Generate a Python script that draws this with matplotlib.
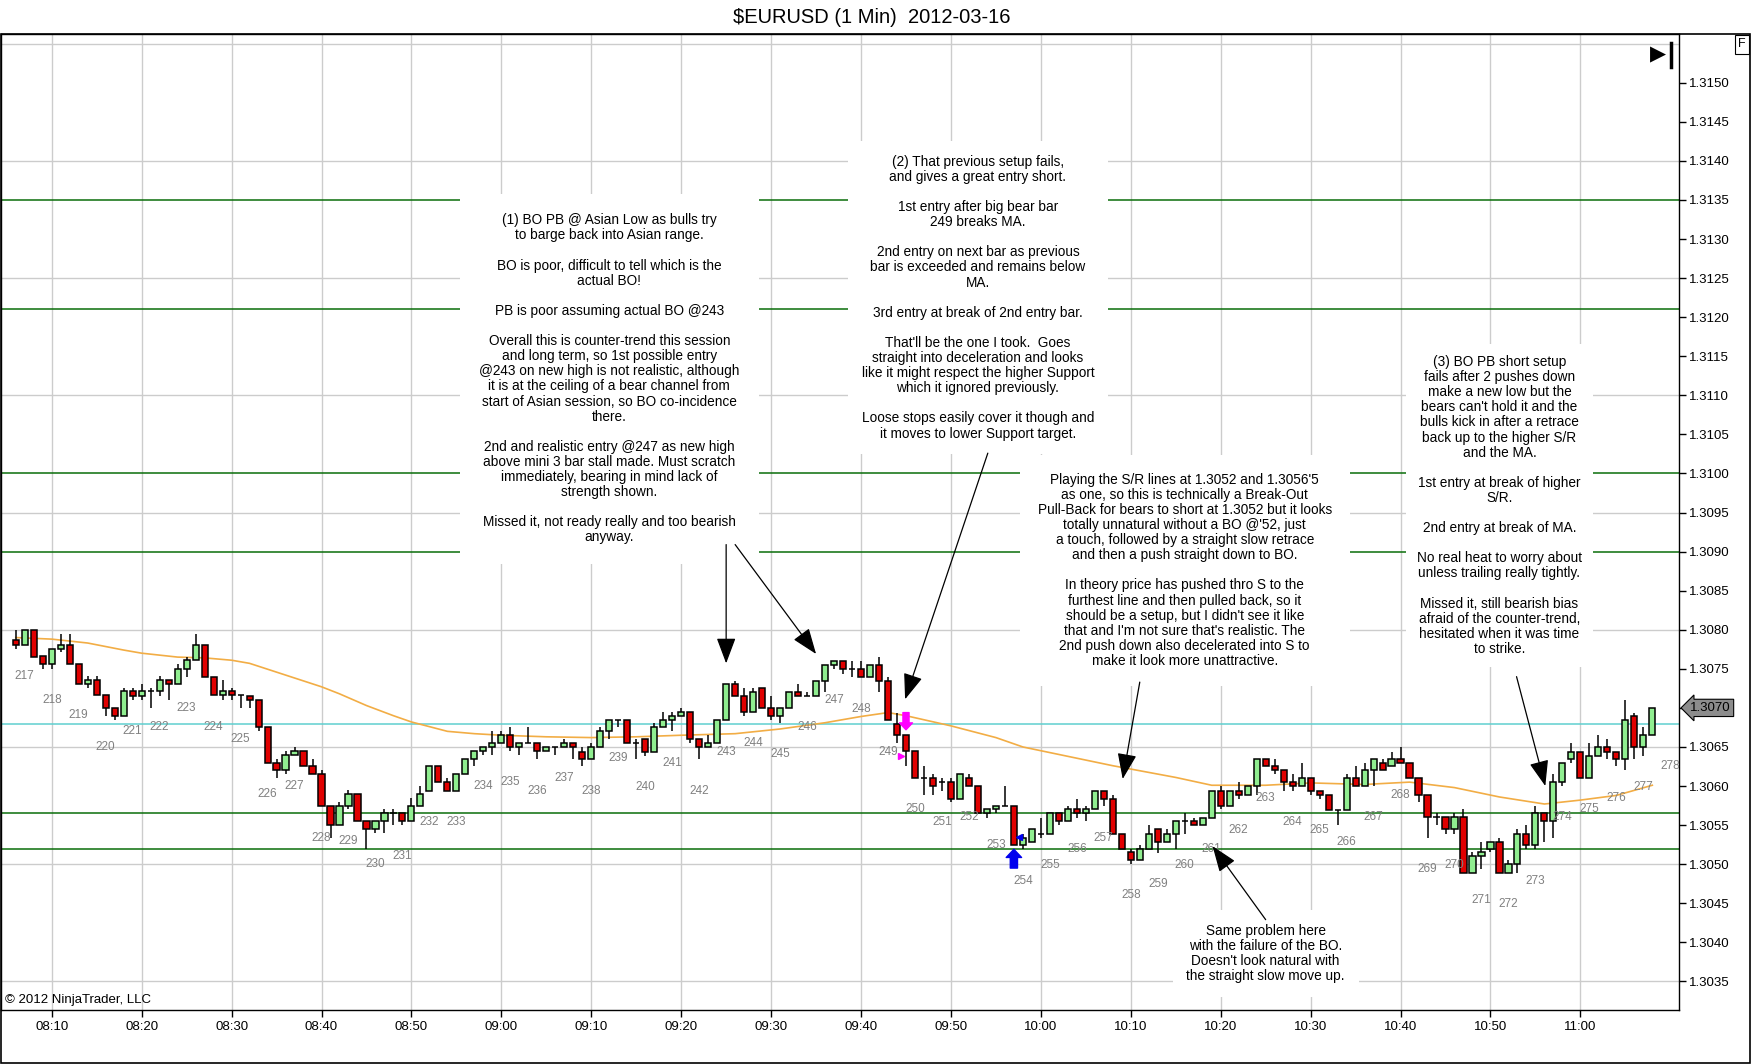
import matplotlib
matplotlib.use('Agg')
import matplotlib.pyplot as plt
from matplotlib.patches import Rectangle

# 1-minute bars from 08:06 (index 0) to 11:08 (index 182)
opens = [1.30787, 1.30781, 1.30800, 1.30766, 1.30756, 1.30776, 1.30781, 1.30756, 1.30731, 1.30736,
         1.30716, 1.30700, 1.30690, 1.30721, 1.30715, 1.30721, 1.30721, 1.30736, 1.30731, 1.30750,
         1.30761, 1.30781, 1.30740, 1.30716, 1.30721, 1.30716, 1.30715, 1.30710, 1.30676, 1.30630,
         1.30621, 1.30640, 1.30645, 1.30626, 1.30615, 1.30574, 1.30550, 1.30574, 1.30590, 1.30555,
         1.30545, 1.30555, 1.30565, 1.30565, 1.30555, 1.30574, 1.30594, 1.30626, 1.30605, 1.30594,
         1.30615, 1.30635, 1.30645, 1.30650, 1.30655, 1.30665, 1.30650, 1.30655, 1.30655, 1.30645,
         1.30650, 1.30650, 1.30655, 1.30644, 1.30634, 1.30650, 1.30670, 1.30684, 1.30684, 1.30655,
         1.30660, 1.30644, 1.30676, 1.30684, 1.30689, 1.30695, 1.30660, 1.30650, 1.30655, 1.30684,
         1.30730, 1.30715, 1.30695, 1.30725, 1.30700, 1.30689, 1.30700, 1.30720, 1.30715, 1.30715,
         1.30735, 1.30755, 1.30760, 1.30750, 1.30750, 1.30739, 1.30755, 1.30735, 1.30679, 1.30665,
         1.30645, 1.30610, 1.30610, 1.30605, 1.30605, 1.30584, 1.30610, 1.30600, 1.30565, 1.30570,
         1.30574, 1.30574, 1.30524, 1.30529, 1.30539, 1.30539, 1.30565, 1.30555, 1.30570, 1.30565,
         1.30570, 1.30594, 1.30584, 1.30539, 1.30515, 1.30505, 1.30519, 1.30545, 1.30529, 1.30539,
         1.30555, 1.30555, 1.30550, 1.30559, 1.30594, 1.30574, 1.30594, 1.30589, 1.30600, 1.30634,
         1.30625, 1.30620, 1.30605, 1.30600, 1.30610, 1.30594, 1.30589, 1.30569, 1.30569, 1.30610,
         1.30600, 1.30620, 1.30629, 1.30625, 1.30634, 1.30629, 1.30610, 1.30589, 1.30560, 1.30560,
         1.30545, 1.30560, 1.30489, 1.30510, 1.30519, 1.30529, 1.30489, 1.30500, 1.30539, 1.30524,
         1.30565, 1.30555, 1.30605, 1.30634, 1.30644, 1.30610, 1.30639, 1.30650, 1.30644, 1.30634,
         1.30689, 1.30650, 1.30665]
highs = [1.30800, 1.30800, 1.30800, 1.30766, 1.30776, 1.30795, 1.30795, 1.30756, 1.30741, 1.30741,
         1.30716, 1.30700, 1.30726, 1.30726, 1.30731, 1.30726, 1.30741, 1.30736, 1.30756, 1.30765,
         1.30795, 1.30781, 1.30740, 1.30736, 1.30726, 1.30716, 1.30715, 1.30710, 1.30676, 1.30635,
         1.30645, 1.30650, 1.30645, 1.30635, 1.30621, 1.30574, 1.30579, 1.30595, 1.30590, 1.30555,
         1.30555, 1.30571, 1.30571, 1.30565, 1.30585, 1.30600, 1.30626, 1.30626, 1.30610, 1.30615,
         1.30635, 1.30645, 1.30650, 1.30670, 1.30670, 1.30676, 1.30655, 1.30676, 1.30655, 1.30650,
         1.30650, 1.30660, 1.30655, 1.30650, 1.30655, 1.30676, 1.30684, 1.30684, 1.30684, 1.30660,
         1.30660, 1.30681, 1.30695, 1.30695, 1.30700, 1.30695, 1.30660, 1.30665, 1.30684, 1.30730,
         1.30735, 1.30725, 1.30725, 1.30725, 1.30715, 1.30700, 1.30720, 1.30730, 1.30720, 1.30735,
         1.30755, 1.30760, 1.30760, 1.30760, 1.30760, 1.30755, 1.30765, 1.30739, 1.30694, 1.30665,
         1.30645, 1.30625, 1.30615, 1.30610, 1.30610, 1.30615, 1.30615, 1.30600, 1.30570, 1.30574,
         1.30600, 1.30574, 1.30539, 1.30545, 1.30559, 1.30565, 1.30565, 1.30574, 1.30584, 1.30574,
         1.30594, 1.30594, 1.30589, 1.30539, 1.30519, 1.30524, 1.30550, 1.30545, 1.30545, 1.30555,
         1.30565, 1.30559, 1.30559, 1.30594, 1.30600, 1.30594, 1.30605, 1.30600, 1.30634, 1.30634,
         1.30634, 1.30620, 1.30615, 1.30629, 1.30610, 1.30594, 1.30589, 1.30569, 1.30615, 1.30625,
         1.30629, 1.30634, 1.30634, 1.30644, 1.30650, 1.30629, 1.30610, 1.30589, 1.30565, 1.30560,
         1.30565, 1.30570, 1.30515, 1.30529, 1.30529, 1.30534, 1.30505, 1.30545, 1.30550, 1.30574,
         1.30565, 1.30615, 1.30629, 1.30655, 1.30644, 1.30655, 1.30665, 1.30660, 1.30644, 1.30710,
         1.30694, 1.30676, 1.30700]
lows = [1.30776, 1.30781, 1.30765, 1.30750, 1.30750, 1.30772, 1.30756, 1.30731, 1.30726, 1.30716,
        1.30690, 1.30685, 1.30690, 1.30710, 1.30710, 1.30700, 1.30715, 1.30710, 1.30731, 1.30740,
        1.30761, 1.30740, 1.30716, 1.30710, 1.30710, 1.30700, 1.30700, 1.30671, 1.30630, 1.30610,
        1.30615, 1.30640, 1.30626, 1.30616, 1.30574, 1.30534, 1.30550, 1.30570, 1.30555, 1.30519,
        1.30540, 1.30540, 1.30550, 1.30550, 1.30555, 1.30574, 1.30594, 1.30605, 1.30594, 1.30594,
        1.30615, 1.30626, 1.30640, 1.30640, 1.30655, 1.30645, 1.30640, 1.30655, 1.30634, 1.30645,
        1.30640, 1.30650, 1.30634, 1.30625, 1.30634, 1.30650, 1.30660, 1.30676, 1.30655, 1.30634,
        1.30639, 1.30644, 1.30676, 1.30670, 1.30689, 1.30655, 1.30634, 1.30650, 1.30655, 1.30684,
        1.30715, 1.30689, 1.30695, 1.30700, 1.30684, 1.30681, 1.30700, 1.30715, 1.30715, 1.30715,
        1.30720, 1.30750, 1.30744, 1.30739, 1.30739, 1.30739, 1.30720, 1.30684, 1.30655, 1.30625,
        1.30610, 1.30589, 1.30589, 1.30594, 1.30579, 1.30584, 1.30600, 1.30565, 1.30559, 1.30565,
        1.30574, 1.30524, 1.30519, 1.30529, 1.30534, 1.30539, 1.30550, 1.30555, 1.30559, 1.30555,
        1.30570, 1.30574, 1.30539, 1.30519, 1.30500, 1.30505, 1.30519, 1.30514, 1.30529, 1.30519,
        1.30539, 1.30550, 1.30550, 1.30559, 1.30570, 1.30574, 1.30584, 1.30589, 1.30589, 1.30625,
        1.30615, 1.30594, 1.30594, 1.30600, 1.30589, 1.30584, 1.30569, 1.30550, 1.30569, 1.30600,
        1.30600, 1.30600, 1.30620, 1.30625, 1.30629, 1.30610, 1.30579, 1.30534, 1.30550, 1.30539,
        1.30539, 1.30489, 1.30489, 1.30494, 1.30515, 1.30489, 1.30489, 1.30489, 1.30519, 1.30519,
        1.30529, 1.30534, 1.30600, 1.30629, 1.30610, 1.30610, 1.30639, 1.30634, 1.30625, 1.30620,
        1.30634, 1.30639, 1.30665]
closes = [1.30781, 1.30800, 1.30765, 1.30756, 1.30776, 1.30781, 1.30756, 1.30731, 1.30736, 1.30716,
          1.30700, 1.30690, 1.30721, 1.30715, 1.30721, 1.30721, 1.30736, 1.30731, 1.30750, 1.30761,
          1.30781, 1.30740, 1.30716, 1.30721, 1.30716, 1.30716, 1.30710, 1.30676, 1.30630, 1.30621,
          1.30640, 1.30645, 1.30626, 1.30616, 1.30574, 1.30550, 1.30574, 1.30590, 1.30555, 1.30545,
          1.30555, 1.30565, 1.30565, 1.30555, 1.30574, 1.30590, 1.30626, 1.30605, 1.30594, 1.30615,
          1.30635, 1.30645, 1.30650, 1.30655, 1.30665, 1.30650, 1.30655, 1.30655, 1.30645, 1.30650,
          1.30650, 1.30655, 1.30650, 1.30634, 1.30650, 1.30670, 1.30684, 1.30684, 1.30655, 1.30655,
          1.30644, 1.30676, 1.30684, 1.30689, 1.30695, 1.30660, 1.30650, 1.30655, 1.30684, 1.30730,
          1.30715, 1.30695, 1.30720, 1.30700, 1.30689, 1.30700, 1.30720, 1.30715, 1.30715, 1.30735,
          1.30755, 1.30760, 1.30750, 1.30750, 1.30739, 1.30755, 1.30735, 1.30684, 1.30665, 1.30645,
          1.30610, 1.30610, 1.30600, 1.30605, 1.30584, 1.30615, 1.30600, 1.30565, 1.30570, 1.30574,
          1.30574, 1.30524, 1.30534, 1.30545, 1.30539, 1.30565, 1.30555, 1.30570, 1.30565, 1.30570,
          1.30594, 1.30584, 1.30539, 1.30519, 1.30505, 1.30519, 1.30539, 1.30529, 1.30539, 1.30555,
          1.30555, 1.30550, 1.30559, 1.30594, 1.30574, 1.30594, 1.30589, 1.30600, 1.30634, 1.30625,
          1.30620, 1.30605, 1.30600, 1.30610, 1.30594, 1.30589, 1.30569, 1.30569, 1.30610, 1.30600,
          1.30620, 1.30634, 1.30620, 1.30634, 1.30629, 1.30610, 1.30589, 1.30560, 1.30560, 1.30545,
          1.30560, 1.30489, 1.30510, 1.30515, 1.30529, 1.30489, 1.30500, 1.30539, 1.30524, 1.30565,
          1.30555, 1.30605, 1.30629, 1.30644, 1.30610, 1.30639, 1.30650, 1.30644, 1.30634, 1.30684,
          1.30650, 1.30665, 1.30700]

# moving average at these bar indexes
ma_bars = [0, 4, 8, 12, 14, 18, 21, 24, 26, 30, 34, 36, 39, 42, 44, 48, 51, 54, 59, 64, 69, 74,
           80, 85, 90, 94, 97, 99, 104, 109, 112, 117, 122, 129, 133, 139, 144, 150, 155, 160,
           165, 170, 174, 178, 182]
ma_values = [1.30790, 1.30788, 1.30783, 1.30774, 1.30770, 1.30765, 1.30764, 1.30761, 1.30757,
             1.30742, 1.30727, 1.30718, 1.30703, 1.30690, 1.30682, 1.30670, 1.30667, 1.30665,
             1.30663, 1.30662, 1.30663, 1.30665, 1.30667, 1.30673, 1.30681, 1.30689, 1.30694,
             1.30690, 1.30677, 1.30662, 1.30650, 1.30638, 1.30626, 1.30611, 1.30601, 1.30601,
             1.30604, 1.30602, 1.30605, 1.30598, 1.30586, 1.30577, 1.30582, 1.30588, 1.30601]

sr_lines = [1.3135, 1.3121, 1.3100, 1.3090, 1.30565, 1.3052]
cyan_line = 1.3068
last_price = 1.3070

bar_numbers = list(range(217, 279))
time_labels = ['08:10', '08:20', '08:30', '08:40', '08:50', '09:00', '09:10', '09:20', '09:30',
               '09:40', '09:50', '10:00', '10:10', '10:20', '10:30', '10:40', '10:50', '11:00']

note1 = ("(1) BO PB @ Asian Low as bulls try\nto barge back into Asian range.\n\n"
         "BO is poor, difficult to tell which is the\nactual BO!\n\n"
         "PB is poor assuming actual BO @243\n\n"
         "Overall this is counter-trend this session\nand long term, so 1st possible entry\n"
         "@243 on new high is not realistic, although\nit is at the ceiling of a bear channel from\n"
         "start of Asian session, so BO co-incidence\nthere.\n\n"
         "2nd and realistic entry @247 as new high\nabove mini 3 bar stall made. Must scratch\n"
         "immediately, bearing in mind lack of\nstrength shown.\n\n"
         "Missed it, not ready really and too bearish\nanyway.")
note2 = ("(2) That previous setup fails,\nand gives a great entry short.\n\n"
         "1st entry after big bear bar\n249 breaks MA.\n\n"
         "2nd entry on next bar as previous\nbar is exceeded and remains below\nMA.\n\n"
         "3rd entry at break of 2nd entry bar.\n\n"
         "That'll be the one I took.  Goes\nstraight into deceleration and looks\n"
         "like it might respect the higher Support\nwhich it ignored previously.\n\n"
         "Loose stops easily cover it though and\nit moves to lower Support target.")
note3 = ("Playing the S/R lines at 1.3052 and 1.3056'5\nas one, so this is technically a Break-Out\n"
         "Pull-Back for bears to short at 1.3052 but it looks\ntotally unnatural without a BO @'52, just\n"
         "a touch, followed by a straight slow retrace\nand then a push straight down to BO.\n\n"
         "In theory price has pushed thro S to the\nfurthest line and then pulled back, so it\n"
         "should be a setup, but I didn't see it like\nthat and I'm not sure that's realistic. The\n"
         "2nd push down also decelerated into S to\nmake it look more unattractive.")
note4 = ("(3) BO PB short setup\nfails after 2 pushes down\nmake a new low but the\n"
         "bears can't hold it and the\nbulls kick in after a retrace\nback up to the higher S/R\n"
         "and the MA.\n\n1st entry at break of higher\nS/R.\n\n2nd entry at break of MA.\n\n"
         "No real heat to worry about\nunless trailing really tightly.\n\n"
         "Missed it, still bearish bias\nafraid of the counter-trend,\n"
         "hesitated when it was time\nto strike.")
note5 = ("Same problem here\nwith the failure of the BO.\nDoesn't look natural with\n"
         "the straight slow move up.")

plt.rcParams['font.family'] = ['Liberation Sans', 'DejaVu Sans']

fig = plt.figure(figsize=(17.52, 10.64), dpi=100)
ax = fig.add_axes([0.0008, 0.0512, 0.9577, 0.9173])
ax.set_xlim(-1.6, 185.0)
ax.set_ylim(1.30314, 1.31563)

# grid
tick_bars = [4 + 10 * i for i in range(len(time_labels))]
for t in tick_bars:
    ax.axvline(t, color='#cccccc', lw=1, zorder=0)
for j in range(9):
    ax.axhline(1.3035 + 0.0015 * j, color='#cccccc', lw=1, zorder=0)

for p in sr_lines:
    ax.axhline(p, color='#0a6e0a', lw=1.1, zorder=1)
ax.axhline(cyan_line, color='#5fcfcf', lw=1.1, zorder=1)

# moving average
ax.plot(ma_bars, ma_values, color='#f2ad45', lw=1.2, zorder=2)

# candles
n = len(closes)
for k in range(n):
    o, h, l, c = opens[k], highs[k], lows[k], closes[k]
    ax.vlines(k, l, h, color='black', lw=1.1, zorder=3)
    fc = '#90ee90' if c >= o else '#e00000'
    ax.bar(k, abs(c - o), bottom=min(o, c), width=0.68, color=fc,
           edgecolor='black', linewidth=1.1, zorder=4)

# bar numbers every 3 bars
for i, num in enumerate(bar_numbers):
    k = 1 + 3 * i
    lo = lows[min(k, n - 1)]
    ax.text(k, lo - 0.0004, str(num), ha='center', va='center',
            fontsize=8.5, color='#808080', zorder=5)

# trade markers
small_arrow = 'simple,head_length=0.45,head_width=0.85,tail_width=0.4'
ax.annotate('', xy=(111, 1.30519), xytext=(111, 1.30495),
            arrowprops=dict(arrowstyle=small_arrow, color='#0000ee', mutation_scale=13,
                            shrinkA=0, shrinkB=0), zorder=6)
ax.plot(111.6, 1.30535, marker='<', color='#0000ee', ms=5, zorder=6)
ax.annotate('', xy=(99, 1.30672), xytext=(99, 1.30694),
            arrowprops=dict(arrowstyle=small_arrow, color='#ff00ff', mutation_scale=11,
                            shrinkA=0, shrinkB=0), zorder=6)
ax.plot(98.5, 1.30639, marker='>', color='#ff00ff', ms=5, zorder=6)

# notes
kw = dict(ha='center', va='center', fontsize=9.8, linespacing=1.10, zorder=3)
notes = [(66.0, 1.31121, note1, 14), (107.0, 1.31225, note2, 10), (130.0, 1.30876, note3, 13),
         (165.0, 1.30959, note4, 8), (139.0, 1.30386, note5, 10)]
for x, y, txt, pad in notes:
    ax.text(x, y, txt, bbox=dict(facecolor='white', edgecolor='none', pad=pad), **kw)

# arrows from notes
arrow = dict(arrowstyle='-|>,head_length=0.8,head_width=0.3', color='black', lw=0.9,
             mutation_scale=20, shrinkA=0, shrinkB=0)
arrows = [((79.0, 1.30909), (79.0, 1.30757)),
          ((80.0, 1.30909), (89.0, 1.30769)),
          ((108.1, 1.31026), (98.9, 1.30711)),
          ((125.0, 1.30733), (123.1, 1.30609)),
          ((139.0, 1.30429), (133.1, 1.30523)),
          ((166.9, 1.30740), (170.1, 1.30600))]
for start, tip in arrows:
    ax.annotate('', xy=tip, xytext=start, arrowprops=arrow, zorder=7)

# axes styling
ax.yaxis.tick_right()
ax.set_yticks([1.3035 + 0.0005 * j for j in range(24)])
ax.set_yticklabels(['%.4f' % (1.3035 + 0.0005 * j) for j in range(24)])
ax.set_xticks(tick_bars)
ax.set_xticklabels(time_labels)
ax.tick_params(axis='both', labelsize=9.5, length=5, width=1, color='black', direction='out')
ax.tick_params(axis='y', pad=2)
ax.tick_params(axis='x', pad=3)
for s in ax.spines.values():
    s.set_color('black')
    s.set_linewidth(1)

ax.annotate('%.4f' % last_price, xy=(1.0, last_price), xycoords=('axes fraction', 'data'),
            xytext=(8, 0), textcoords='offset points', ha='left', va='center', fontsize=9.5,
            bbox=dict(boxstyle='larrow,pad=0.2', fc='#8c8c8c', ec='black', lw=0.8),
            zorder=10, annotation_clip=False)

ax.text(0.002, 0.01, '\u00a9 2012 NinjaTrader, LLC', transform=ax.transAxes,
        ha='left', va='center', fontsize=9.5, zorder=5)
ax.text(0.9875, 0.978, '\u25b6', transform=ax.transAxes, ha='center', va='center',
        fontsize=15, zorder=5)
ax.plot([0.9952, 0.9952], [0.966, 0.99], transform=ax.transAxes, color='black', lw=2.5,
        zorder=5)

# outer frame, title, F box
fig.patches.append(Rectangle((0.0006, 0.001), 0.9984, 0.9673, transform=fig.transFigure,
                             fill=False, edgecolor='black', lw=1.2))
fig.text(0.4975, 0.984, '$EURUSD (1 Min)  2012-03-16', ha='center', va='center', fontsize=14.5)
fig.text(0.9943, 0.9585, 'F', ha='center', va='center', fontsize=9,
         bbox=dict(facecolor='white', edgecolor='black', lw=0.8, pad=2.5))

fig.savefig('out.png', dpi=100, facecolor='white')
